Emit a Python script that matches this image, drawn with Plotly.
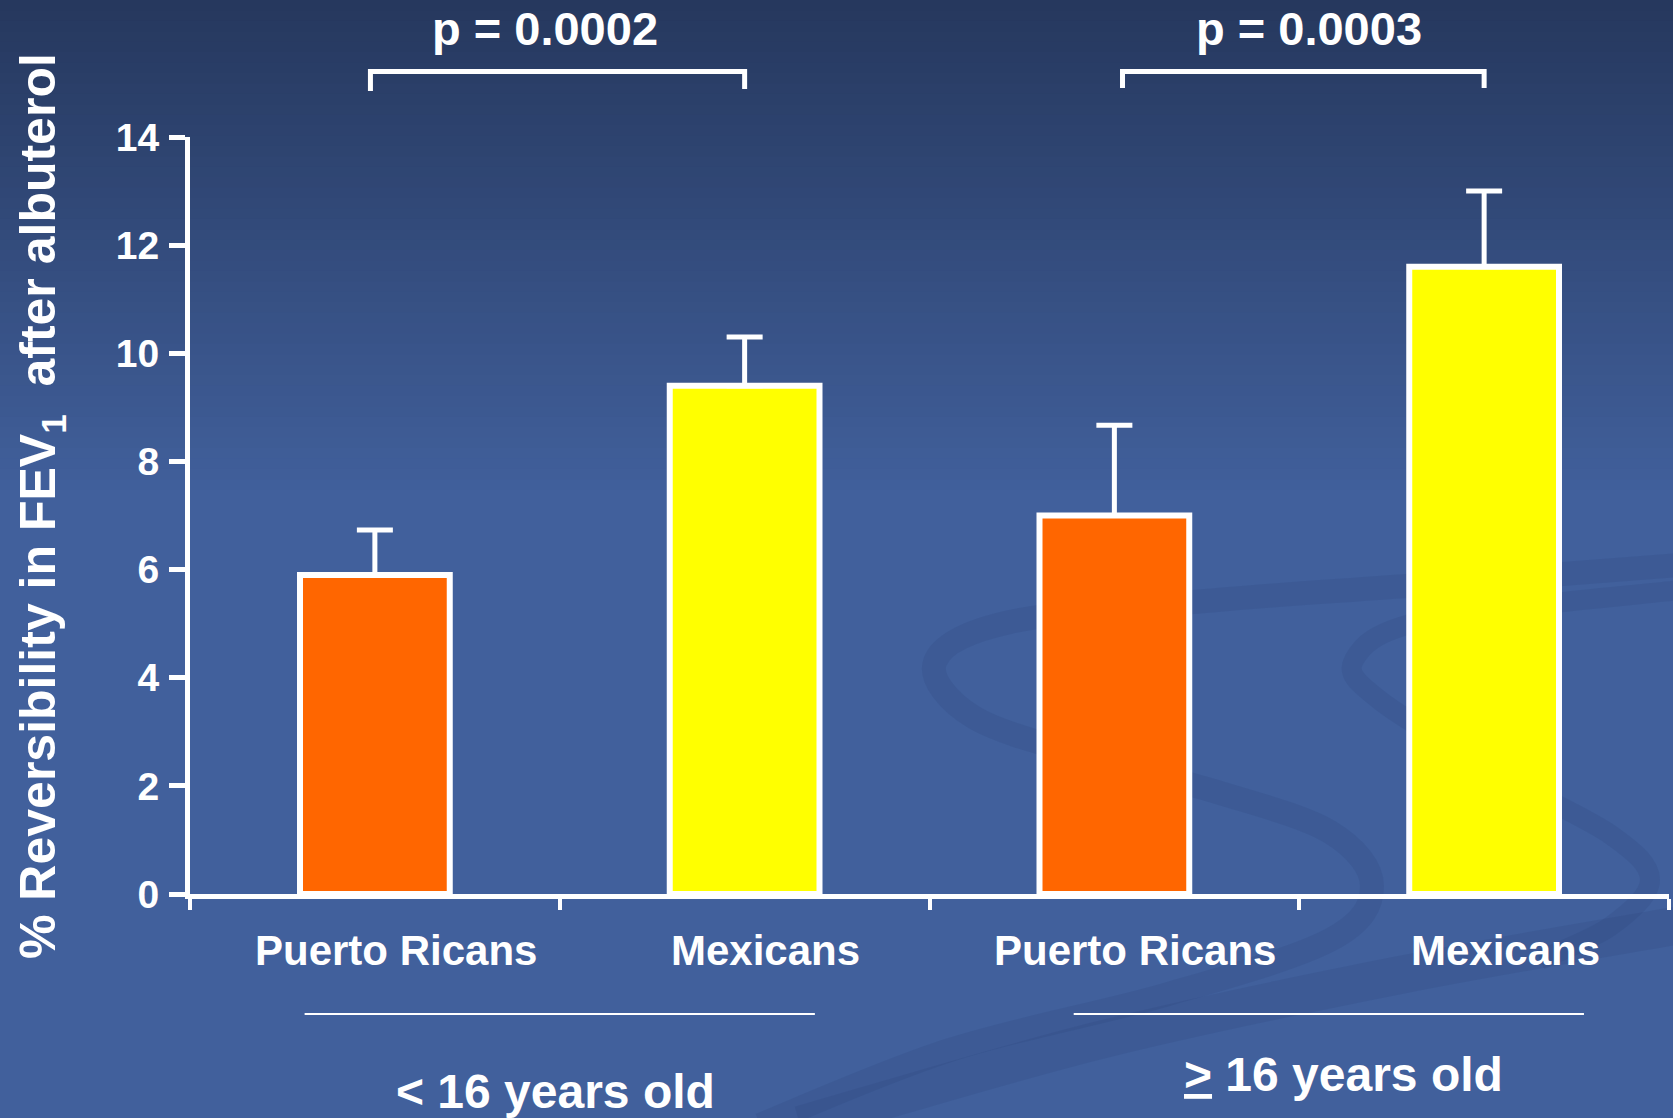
import plotly.graph_objects as go

# ---------------- data ----------------
categories = ["Puerto Ricans", "Mexicans", "Puerto Ricans", "Mexicans"]
means = [5.9, 9.4, 7.0, 11.6]
errors = [0.83, 0.9, 1.67, 1.4]
bar_colors = ["#FF6600", "#FFFF00", "#FF6600", "#FFFF00"]
group_labels = ["< 16 years old", "<u>></u> 16 years old"]
p_labels = ["p = 0.0002", "p = 0.0003"]
p_pairs = [(0, 1), (2, 3)]
y_ticks = [0, 2, 4, 6, 8, 10, 12, 14]
y_title = "% Reversibility in FEV<sub>1</sub>&nbsp; after albuterol"

# ---------------- geometry ----------------
W, H = 1673, 1118
L, R, T, B = 190, 4, 137, 224
PW, PH = W - L - R, H - T - B
FONT = "Liberation Sans, Arial, sans-serif"


def px(x):
    return (x - L) / PW


def py(y):
    return (H - B - y) / PH


x_pos = list(range(len(categories)))

fig = go.Figure()
fig.add_trace(go.Bar(
    x=x_pos, y=means, width=0.405,
    marker=dict(color=bar_colors, line=dict(color="white", width=6)),
    error_y=dict(type="data", array=errors, arrayminus=[0] * len(errors),
                 symmetric=False, color="white", thickness=5, width=18),
    showlegend=False, hoverinfo="skip",
))

shapes = []
# background gradient
top_c = (38, 56, 94)
mid_c = (65, 96, 156)
n = 48
grad_h = 500
for i in range(n):
    t = i / (n - 1)
    c = tuple(int(round(top_c[k] + (mid_c[k] - top_c[k]) * t)) for k in range(3))
    y0 = i * grad_h / n
    y1 = (i + 1) * grad_h / n + 1
    shapes.append(dict(type="rect", xref="paper", yref="paper",
                       x0=px(0), x1=px(W), y0=py(y1), y1=py(y0),
                       fillcolor="rgb(%d,%d,%d)" % c, line=dict(width=0), layer="below"))


def smooth_path(pts):
    P = [(px(x), py(y)) for x, y in pts]
    d = "M %.5f,%.5f" % P[0]
    for i in range(len(P) - 1):
        p0 = P[i - 1] if i > 0 else P[i]
        p1 = P[i]
        p2 = P[i + 1]
        p3 = P[i + 2] if i + 2 < len(P) else P[i + 1]
        c1 = (p1[0] + (p2[0] - p0[0]) / 6, p1[1] + (p2[1] - p0[1]) / 6)
        c2 = (p2[0] - (p3[0] - p1[0]) / 6, p2[1] - (p3[1] - p1[1]) / 6)
        d += " C %.5f,%.5f %.5f,%.5f %.5f,%.5f" % (c1 + c2 + p2)
    return d


swirl_a = [(1680, 565), (1420, 585), (1217, 600), (1010, 622), (935, 662), (975, 718),
           (1100, 760), (1217, 792), (1330, 832), (1372, 886), (1330, 940), (1165, 995),
           (950, 1050), (760, 1125)]
swirl_b = [(1680, 590), (1427, 620), (1354, 660), (1382, 702), (1506, 778), (1611, 835),
           (1650, 880), (1611, 926), (1540, 960)]
swirl_c = [(800, 1125), (1100, 1040), (1400, 975), (1680, 925)]
for pts, w in [(swirl_a, 24), (swirl_b, 20), (swirl_c, 38)]:
    shapes.append(dict(type="path", xref="paper", yref="paper", path=smooth_path(pts),
                       line=dict(color="rgba(40,62,112,0.15)", width=w), layer="below"))

# significance brackets (small horizontal offsets, in category units)
bracket_off = [(-0.012, 0.0), (0.022, 0.0)]
bracket_legs = [(91, 89), (88, 88)]
for (a, b), (oa, ob), (la, lb) in zip(p_pairs, bracket_off, bracket_legs):
    shapes.append(dict(type="path", xref="x", yref="paper",
                       path="M %g,%.5f L %g,%.5f L %g,%.5f L %g,%.5f" % (
                           a + oa, py(la), a + oa, py(71.5), b + ob, py(71.5), b + ob, py(lb)),
                       line=dict(color="white", width=5)))

# group separator lines
sep_spans = [(-0.19, 1.19), (1.89, 3.27)]
for x0, x1 in sep_spans:
    shapes.append(dict(type="line", xref="x", yref="paper", x0=x0, x1=x1,
                       y0=py(1014), y1=py(1014), line=dict(color="white", width=2)))

annotations = []
for i, c in enumerate(categories):
    annotations.append(dict(x=x_pos[i], xref="x", xshift=21, y=py(950.5), yref="paper",
                            text=c, showarrow=False, xanchor="center", yanchor="middle",
                            font=dict(family=FONT, size=42, color="white", weight="bold")))
group_pos = [(0.5, -4, 1091), (2.5, 44, 1074.5)]
for (gx, sh, gy), g in zip(group_pos, group_labels):
    annotations.append(dict(x=gx, xref="x", xshift=sh, y=py(gy), yref="paper", text=g,
                            showarrow=False, xanchor="center", yanchor="middle",
                            font=dict(family=FONT, size=48, color="white", weight="bold")))
p_shift = [-15, 10]
for (a, b), lab, sh in zip(p_pairs, p_labels, p_shift):
    annotations.append(dict(x=(a + b) / 2, xref="x", xshift=sh, y=py(29), yref="paper",
                            text=lab, showarrow=False, xanchor="center", yanchor="middle",
                            font=dict(family=FONT, size=47, color="white", weight="bold")))
annotations.append(dict(x=px(42), xref="paper", y=py(506), yref="paper", text=y_title,
                        textangle=-90, showarrow=False, xanchor="center", yanchor="middle",
                        font=dict(family=FONT, size=50, color="white", weight="bold")))

fig.update_layout(
    width=W, height=H,
    margin=dict(l=L, r=R, t=T, b=B, pad=0),
    paper_bgcolor="rgb(65,96,156)",
    plot_bgcolor="rgba(0,0,0,0)",
    shapes=shapes, annotations=annotations,
    xaxis=dict(range=[-0.5, 3.5], showgrid=False, zeroline=False,
               showline=True, linecolor="white", linewidth=5,
               tickvals=[-0.5, 0.5, 1.5, 2.5, 3.5], ticks="outside", ticklen=11,
               tickwidth=4, tickcolor="white", showticklabels=False, fixedrange=True),
    yaxis=dict(range=[0, 14], showgrid=False, zeroline=False,
               showline=True, linecolor="white", linewidth=5,
               tickvals=y_ticks, ticks="outside", ticklen=16, tickwidth=5,
               tickcolor="white", ticklabelstandoff=2,
               tickfont=dict(family=FONT, size=39, color="white", weight="bold"),
               fixedrange=True),
    bargap=0.5,
)

fig.write_html(
    "out.html",
    config={"displayModeBar": False},
    post_script="document.body.style.margin='0';document.body.style.overflow='hidden';",
)
